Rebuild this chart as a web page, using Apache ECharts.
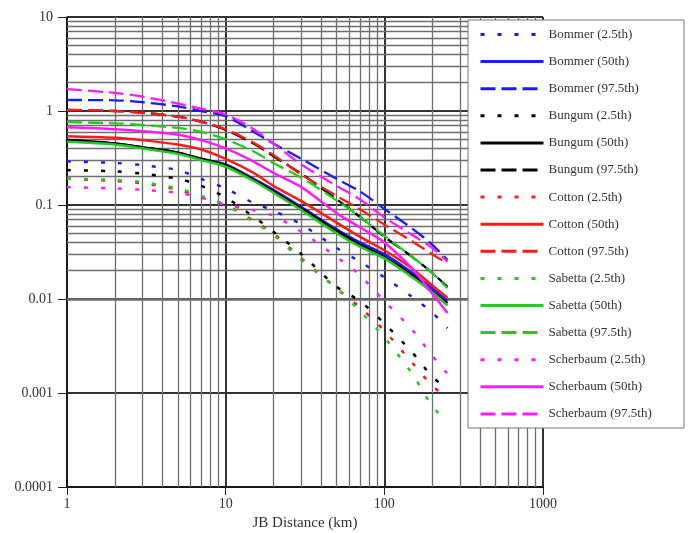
<!DOCTYPE html>
<html>
<head>
<meta charset="utf-8">
<script src="https://cdn.jsdelivr.net/npm/echarts@6/dist/echarts.min.js"></script>
<style>html,body{margin:0;padding:0;background:#fff;}#c{width:692px;height:533px;}</style>
</head>
<body>
<div id="c"></div>
<script>
// JB distance (km)
const distances = [1, 2, 3, 5, 7, 10, 15, 20, 30, 50, 70, 100, 150, 200, 250];

const bommer25   = [0.29, 0.28, 0.265, 0.235, 0.19, 0.15, 0.105, 0.087, 0.062, 0.035, 0.025, 0.017, 0.0105, 0.0072, 0.0049];
const bommer50   = [0.49, 0.45, 0.41, 0.36, 0.31, 0.27, 0.19, 0.145, 0.095, 0.055, 0.04, 0.03, 0.019, 0.013, 0.0095];
const bommer975  = [1.31, 1.3, 1.24, 1.12, 1.0, 0.88, 0.6, 0.45, 0.31, 0.19, 0.14, 0.091, 0.056, 0.038, 0.026];
const bungum25   = [0.235, 0.228, 0.215, 0.19, 0.16, 0.12, 0.075, 0.052, 0.03, 0.0135, 0.0095, 0.0055, 0.0027, 0.0015, 0.0011];
const bungum50   = [0.49, 0.45, 0.41, 0.36, 0.31, 0.265, 0.185, 0.14, 0.092, 0.053, 0.038, 0.028, 0.018, 0.012, 0.009];
const bungum975  = [1.03, 1.0, 0.96, 0.87, 0.77, 0.63, 0.45, 0.33, 0.215, 0.115, 0.075, 0.046, 0.028, 0.019, 0.0135];
const cotton25   = [0.19, 0.18, 0.17, 0.145, 0.12, 0.1, 0.068, 0.05, 0.027, 0.013, 0.0082, 0.0046, 0.0021, 0.0012, 0.00088];
const cotton50   = [0.54, 0.52, 0.49, 0.44, 0.39, 0.31, 0.22, 0.16, 0.11, 0.065, 0.046, 0.033, 0.021, 0.014, 0.0103];
const cotton975  = [1.03, 1.0, 0.96, 0.87, 0.77, 0.64, 0.46, 0.34, 0.21, 0.125, 0.09, 0.062, 0.041, 0.030, 0.024];
const sabetta25  = [0.19, 0.185, 0.175, 0.15, 0.125, 0.1, 0.066, 0.048, 0.026, 0.013, 0.0075, 0.0039, 0.0016, 0.00073, 0.0005];
const sabetta50  = [0.47, 0.44, 0.4, 0.35, 0.3, 0.255, 0.18, 0.135, 0.088, 0.05, 0.036, 0.027, 0.017, 0.0118, 0.0085];
const sabetta975 = [0.76, 0.74, 0.71, 0.66, 0.6, 0.5, 0.37, 0.28, 0.195, 0.112, 0.075, 0.047, 0.028, 0.019, 0.013];
const scherbaum25  = [0.155, 0.15, 0.145, 0.135, 0.12, 0.1, 0.088, 0.077, 0.052, 0.028, 0.018, 0.0095, 0.0047, 0.0025, 0.0016];
const scherbaum50  = [0.67, 0.64, 0.61, 0.56, 0.49, 0.40, 0.29, 0.22, 0.155, 0.082, 0.058, 0.04, 0.021, 0.0115, 0.0071];
const scherbaum975 = [1.71, 1.56, 1.42, 1.2, 1.06, 0.92, 0.64, 0.45, 0.27, 0.16, 0.115, 0.074, 0.048, 0.035, 0.025];

const seriesNames = [
  'Bommer (2.5th)', 'Bommer (50th)', 'Bommer (97.5th)',
  'Bungum (2.5th)', 'Bungum (50th)', 'Bungum (97.5th)',
  'Cotton (2.5th)', 'Cotton (50th)', 'Cotton (97.5th)',
  'Sabetta (2.5th)', 'Sabetta (50th)', 'Sabetta (97.5th)',
  'Scherbaum (2.5th)', 'Scherbaum (50th)', 'Scherbaum (97.5th)'
];
const seriesValues = [
  bommer25, bommer50, bommer975,
  bungum25, bungum50, bungum975,
  cotton25, cotton50, cotton975,
  sabetta25, sabetta50, sabetta975,
  scherbaum25, scherbaum50, scherbaum975
];

const xTickLabels = ['1', '10', '100', '1000'];
const yTickLabels = ['0.0001', '0.001', '0.01', '0.1', '1', '10'];
const xMinorGrid = [2,3,4,5,6,7,8,9,20,30,40,50,60,70,80,90,200,300,400,500,600,700,800,900];
const yMinorGrid = [];
[0.0001, 0.001, 0.01, 0.1, 1].forEach(d => { for (let k = 2; k <= 9; k++) yMinorGrid.push(+(k * d).toPrecision(3)); });

const modelColors = ['#1a1aff', '#000000', '#ff1a1a', '#1fcc1f', '#ff1aff'];
const dashTypes = [[4, 13], 'solid', [15, 6]];
const widths = [2.5, 2.5, 2.3];

const series = seriesNames.map((name, i) => ({
  name: name,
  type: 'line',
  data: distances.map((d, j) => [d, seriesValues[i][j]]),
  smooth: 0.3,
  symbol: 'none',
  z: 5,
  lineStyle: { color: modelColors[Math.floor(i / 3)], type: dashTypes[i % 3], width: widths[i % 3] },
  itemStyle: { color: modelColors[Math.floor(i / 3)] }
}));

series.unshift({
  name: 'minorGrid',
  type: 'line',
  data: [],
  silent: true,
  z: 1,
  markLine: {
    silent: true,
    symbol: 'none',
    label: { show: false },
    animation: false,
    lineStyle: { color: '#6e6e6e', type: 'solid', width: 1.3 },
    emphasis: { disabled: true },
    data: xMinorGrid.map(v => ({ xAxis: v })).concat(yMinorGrid.map(v => ({ yAxis: v })))
  }
});

const chart = echarts.init(document.getElementById('c'));
chart.setOption({
  animation: false,
  backgroundColor: '#fff',
  textStyle: { fontFamily: 'Liberation Serif' },
  grid: { left: 67, top: 17, right: 149, bottom: 46, containLabel: false, outerBoundsMode: 'none' },
  xAxis: {
    type: 'log', logBase: 10, min: 1, max: 1000,
    name: 'JB Distance (km)', nameLocation: 'middle', nameGap: 27,
    nameTextStyle: { fontFamily: 'Liberation Serif', fontSize: 15, color: '#333' },
    axisLine: { lineStyle: { color: '#111', width: 1.5 } },
    axisTick: { show: true, inside: false, length: 8, lineStyle: { color: '#222' } },
    axisLabel: { fontFamily: 'Liberation Serif', fontSize: 14, color: '#333', margin: 10,
      formatter: v => xTickLabels[Math.round(Math.log10(v))] },
    splitLine: { show: true, lineStyle: { color: '#333', width: 2 } }
  },
  yAxis: {
    type: 'log', logBase: 10, min: 0.0001, max: 10,
    axisLine: { lineStyle: { color: '#111', width: 1.5 } },
    axisTick: { show: true, inside: false, length: 9, lineStyle: { color: '#222' } },
    axisLabel: { fontFamily: 'Liberation Serif', fontSize: 14, color: '#333', margin: 14,
      formatter: v => yTickLabels[Math.round(Math.log10(v)) + 4] },
    splitLine: { show: true, lineStyle: { color: '#333', width: 2 } }
  },
  graphic: {
    elements: [{
      type: 'rect', z: 50, zlevel: 0,
      shape: { x: 468, y: 20, width: 216, height: 408 },
      style: { fill: '#fff', stroke: '#777', lineWidth: 1 }
    }]
  },
  legend: {
    data: seriesNames,
    orient: 'vertical',
    left: 479, top: 28,
    z: 60,
    padding: 0,
    itemWidth: 63, itemHeight: 14, itemGap: 14.1, itemTextGap: 17,
    itemStyle: { opacity: 0 },
    lineStyle: { width: 3 },
    textStyle: { fontFamily: 'Liberation Serif', fontSize: 13, color: '#333' },
    selectedMode: false
  },
  series: series
});
</script>
</body>
</html>
